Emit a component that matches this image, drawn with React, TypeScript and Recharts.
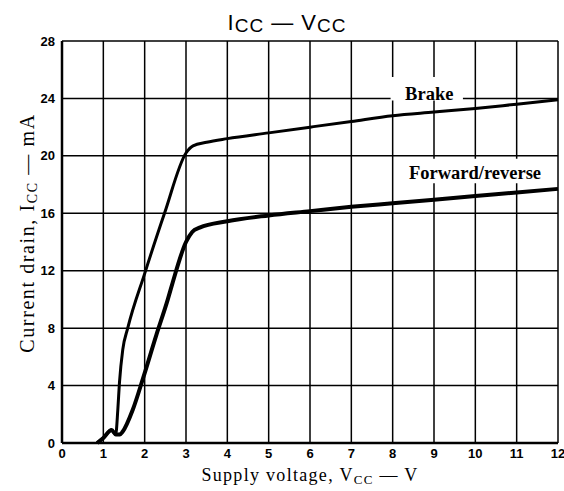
import React from "react";
import { LineChart, Line, XAxis, YAxis, CartesianGrid, ReferenceArea, Label } from "recharts";

// values, V in volts, I in mA
const brakeV = [0.85, 1.0, 1.2, 1.3, 1.35, 1.39, 1.47, 1.59, 2.0, 2.48, 3.0, 3.17, 3.5, 4, 5, 6, 7, 8, 9, 10, 11, 12];
const brakeI = [0, 0.35, 0.9, 0.6, 2.3, 4.2, 6.5, 8, 11.8, 16, 20.2, 20.7, 20.95, 21.2, 21.6, 22.0, 22.4, 22.8, 23.05, 23.3, 23.6, 23.9];

const fwdV = [0.85, 1.0, 1.2, 1.3, 1.4, 1.47, 1.71, 1.96, 2.28, 2.56, 2.68, 3.0, 3.15, 3.33, 4, 5, 6, 7, 8, 9, 10, 11, 12];
const fwdI = [0, 0.35, 0.9, 0.6, 0.6, 0.8, 2.3, 4.5, 7.5, 10, 11.2, 14, 14.7, 15.0, 15.45, 15.85, 16.15, 16.45, 16.7, 16.95, 17.2, 17.45, 17.7];

const xTicks = [0, 1, 2, 3, 4, 5, 6, 7, 8, 9, 10, 11, 12];
const yTicks = [0, 4, 8, 12, 16, 20, 24, 28];

const brakeData = brakeV.map((v, i) => ({ v, i: brakeI[i] }));
const fwdData = fwdV.map((v, i) => ({ v, i: fwdI[i] }));

const serif = "'Liberation Serif', 'Times New Roman', serif";
const sans = "'Liberation Sans', Arial, sans-serif";

const tickStyle = { fill: "#000", fontFamily: sans, fontWeight: 700, fontSize: 13 };

const boxLabel = (text: string, dx: number, dy: number) => (props: any) => {
  const vb = props.viewBox;
  return (
    <text
      x={vb.x + vb.width / 2 + dx}
      y={vb.y + vb.height / 2 + dy}
      textAnchor="middle"
      fontFamily={serif}
      fontWeight={700}
      fontSize={18.5}
      fill="#000"
    >
      {text}
    </text>
  );
};

const App = () => {
  return (
    <div style={{ position: "absolute", left: 0, top: 0, width: 564, height: 491, background: "#fff" }}>
      <LineChart width={564} height={491} margin={{ top: 41, right: 6, left: 22, bottom: 18 }}>
        <CartesianGrid stroke="#000" strokeWidth={1.5} strokeOpacity={1} />
        <XAxis
          type="number"
          dataKey="v"
          domain={[0, 12]}
          ticks={xTicks}
          interval={0}
          allowDuplicatedCategory={false}
          tickLine={false}
          tickSize={0}
          tickMargin={6}
          height={30}
          tick={tickStyle}
          axisLine={{ stroke: "#000", strokeWidth: 2.5 }}
        >
          <Label
            content={() => (
              <text x={310} y={481} textAnchor="middle" fontFamily={serif} fontSize={18} letterSpacing={1.3} fill="#000">
                Supply voltage, V
                <tspan fontSize={13} dy={3}>CC</tspan>
                <tspan dy={-3}> — V</tspan>
              </text>
            )}
          />
        </XAxis>
        <YAxis
          type="number"
          dataKey="i"
          domain={[0, 28]}
          ticks={yTicks}
          interval={0}
          tickLine={false}
          tickSize={0}
          tickMargin={7}
          width={40}
          tick={tickStyle}
          axisLine={{ stroke: "#000", strokeWidth: 2.5 }}
        >
          <Label
            content={() => (
              <text
                x={0}
                y={0}
                transform="translate(34,233) rotate(-90)"
                textAnchor="middle"
                fontFamily={serif}
                fontSize={20}
                letterSpacing={1.6}
                fill="#000"
              >
                Current drain, I
                <tspan fontSize={14} dy={3}>CC</tspan>
                <tspan dy={-3}> — mA</tspan>
              </text>
            )}
          />
        </YAxis>
        <ReferenceArea
          x1={7.95}
          x2={9.7}
          y1={23.85}
          y2={25.5}
          fill="#fff"
          fillOpacity={1}
          stroke="none"
          label={boxLabel("Brake", 2.5, 11)}
        />
        <ReferenceArea
          x1={8.15}
          x2={11.93}
          y1={18.1}
          y2={19.8}
          fill="#fff"
          fillOpacity={1}
          stroke="none"
          label={boxLabel("Forward/reverse", -2, 8)}
        />
        <Line
          data={brakeData}
          dataKey="i"
          type="monotone"
          stroke="#000"
          strokeWidth={3}
          dot={false}
          isAnimationActive={false}
        />
        <Line
          data={fwdData}
          dataKey="i"
          type="monotone"
          stroke="#000"
          strokeWidth={4}
          dot={false}
          isAnimationActive={false}
        />
      </LineChart>
      <svg width={564} height={40} style={{ position: "absolute", left: 0, top: 0 }}>
        <text x={287} y={30} textAnchor="middle" fontFamily={sans} fontSize={22} letterSpacing={1} fill="#000">
          I<tspan fontSize={19} dy={2}>CC</tspan>
          <tspan dy={-2}> — V</tspan>
          <tspan fontSize={19} dy={2}>CC</tspan>
        </text>
      </svg>
    </div>
  );
};

export default App;
